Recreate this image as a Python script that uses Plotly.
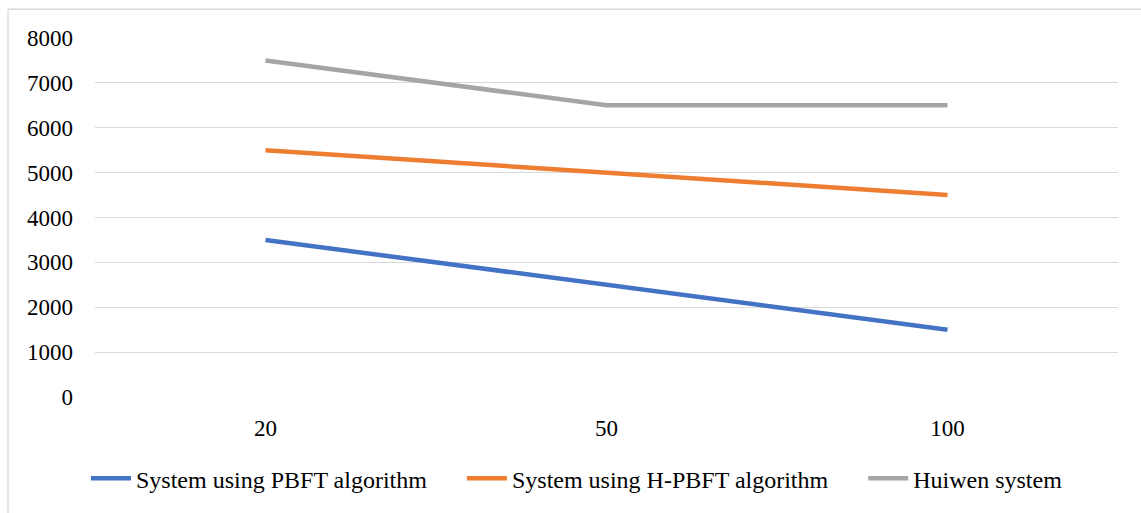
import plotly.graph_objects as go

categories = ["20", "50", "100"]
pbft = [3500, 2500, 1500]
hpbft = [5500, 5000, 4500]
huiwen = [7500, 6500, 6500]
series_names = ["System using PBFT algorithm", "System using H-PBFT algorithm", "Huiwen system"]
colors = ["#4472C4", "#ED7D31", "#A5A5A5"]
y_ticks = [0, 1000, 2000, 3000, 4000, 5000, 6000, 7000, 8000]

FONT = "Times New Roman, Liberation Serif, Tinos, DejaVu Serif, serif"
PAD = "\u00a0" * 5  # extra spacing between legend entries, as in reference

fig = go.Figure()
for i, (name, vals, col) in enumerate(zip(series_names, [pbft, hpbft, huiwen], colors)):
    label = name + (PAD if i < len(series_names) - 1 else "")
    fig.add_trace(go.Scatter(x=categories, y=vals, mode="lines", name=label,
                             line=dict(color=col, width=4.5)))

W, H = 1141, 513
ml, mr, mt, mb = 95, 23, 38, 113
pw, ph = W - ml - mr, H - mt - mb
fig.update_layout(
    width=W, height=H,
    margin=dict(l=ml, r=mr, t=mt, b=mb),
    paper_bgcolor="white", plot_bgcolor="white",
    font=dict(family=FONT, size=23, color="#000000"),
    showlegend=True,
    legend=dict(orientation="h", x=(86 - ml) / pw, xanchor="left", y=-0.165, yanchor="top",
                font=dict(family=FONT, size=24), itemwidth=40, tracegroupgap=0),
    xaxis=dict(type="category", range=[-0.5, 2.5], showgrid=False, showline=False,
               zeroline=False, ticks="", ticklabelstandoff=15,
               tickfont=dict(family=FONT, size=23)),
    yaxis=dict(range=[0, 8000], tickvals=y_ticks, showgrid=True, gridcolor="#D9D9D9",
               gridwidth=1.3, zeroline=False, showline=False, ticks="",
               ticklabelstandoff=21, tickfont=dict(family=FONT, size=23)),
)
# chart border (partially visible, as in reference)
top = 1 + (mt - 9) / ph
left = (8 - ml) / pw
fig.add_shape(type="line", xref="paper", yref="paper",
              x0=left, x1=(W + 5 - ml) / pw, y0=top, y1=top,
              line=dict(color="#D9D9D9", width=1.3))
fig.add_shape(type="line", xref="paper", yref="paper",
              x0=left, x1=left, y0=top, y1=-(mb + 10) / ph,
              line=dict(color="#D9D9D9", width=1.3))

fig.write_html("out.html")
